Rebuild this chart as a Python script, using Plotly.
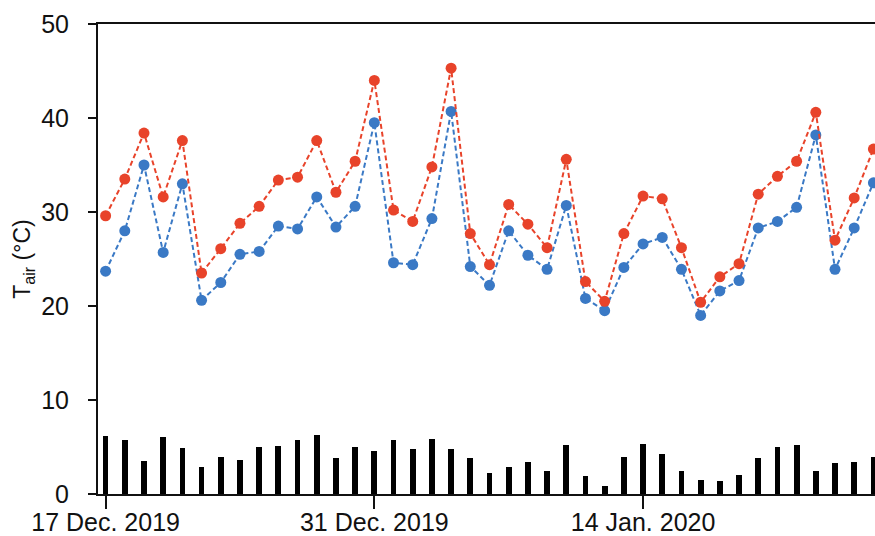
import pandas as pd
import plotly.graph_objects as go

dates = pd.date_range("2019-12-17", periods=41, freq="D")

red_vals = [29.6, 33.5, 38.4, 31.6, 37.6, 23.5, 26.1, 28.8, 30.6, 33.4,
            33.7, 37.6, 32.1, 35.4, 44.0, 30.2, 29.0, 34.8, 45.3, 27.7,
            24.4, 30.8, 28.7, 26.2, 35.6, 22.6, 20.5, 27.7, 31.7, 31.4,
            26.2, 20.4, 23.1, 24.5, 31.9, 33.8, 35.4, 40.6, 27.0, 31.5, 36.7]

blue_vals = [23.7, 28.0, 35.0, 25.7, 33.0, 20.6, 22.5, 25.5, 25.8, 28.5,
             28.2, 31.6, 28.4, 30.6, 39.5, 24.6, 24.4, 29.3, 40.7, 24.2,
             22.2, 28.0, 25.4, 23.9, 30.7, 20.8, 19.5, 24.1, 26.6, 27.3,
             23.9, 19.0, 21.6, 22.7, 28.3, 29.0, 30.5, 38.2, 23.9, 28.3, 33.1]

bar_vals = [6.2, 5.7, 3.5, 6.1, 4.9, 2.9, 3.9, 3.6, 5.0, 5.1,
            5.7, 6.3, 3.8, 5.0, 4.6, 5.7, 4.75, 5.85, 4.75, 3.8,
            2.2, 2.9, 3.4, 2.45, 5.2, 1.9, 0.9, 3.9, 5.3, 4.3,
            2.45, 1.45, 1.4, 2.0, 3.8, 5.0, 5.2, 2.45, 3.25, 3.4, 3.9]

tick_dates = ["2019-12-17", "2019-12-31", "2020-01-14"]
tick_labels = ["17 Dec. 2019", "31 Dec. 2019", "14 Jan. 2020"]

RED = "#E8432A"
BLUE = "#3A79C5"
FONT = "Liberation Sans, Arial, Helvetica, sans-serif"

fig = go.Figure()
fig.add_trace(go.Bar(x=dates, y=bar_vals, marker=dict(color="black", line=dict(width=0)),
                     width=0.3 * 86400000, showlegend=False))
fig.add_trace(go.Scatter(x=dates, y=blue_vals, mode="lines+markers",
                         line=dict(color=BLUE, width=2, dash="5px,3px"),
                         marker=dict(color=BLUE, size=11), showlegend=False))
fig.add_trace(go.Scatter(x=dates, y=red_vals, mode="lines+markers",
                         line=dict(color=RED, width=2, dash="5px,3px"),
                         marker=dict(color=RED, size=11), showlegend=False))

fig.update_layout(
    width=875, height=536,
    margin=dict(l=98, r=0, t=24, b=42, autoexpand=False),
    paper_bgcolor="white", plot_bgcolor="white",
    font=dict(family=FONT, color="#111111", size=24),
    bargap=0,
)
fig.update_xaxes(
    type="date", automargin=False,
    range=["2019-12-16 14:30", "2020-01-26 02:00"],
    tickvals=tick_dates, ticktext=tick_labels,
    ticks="outside", ticklen=13, tickwidth=2, tickcolor="#111111",
    showline=True, linecolor="#111111", linewidth=2, mirror=True,
    showgrid=False, zeroline=False,
    tickfont=dict(size=25), ticklabelstandoff=-8,
)
fig.update_yaxes(
    automargin=False,
    range=[0, 50], tickvals=[0, 10, 20, 30, 40, 50],
    ticks="outside", ticklen=8, tickwidth=2, tickcolor="#111111",
    showline=True, linecolor="#111111", linewidth=2,
    showgrid=False, zeroline=False,
    tickfont=dict(size=25), ticklabelstandoff=14,
    title=dict(text="T<sub>air</sub> (°C)", font=dict(size=23), standoff=4),
)

fig.write_html("out.html")
